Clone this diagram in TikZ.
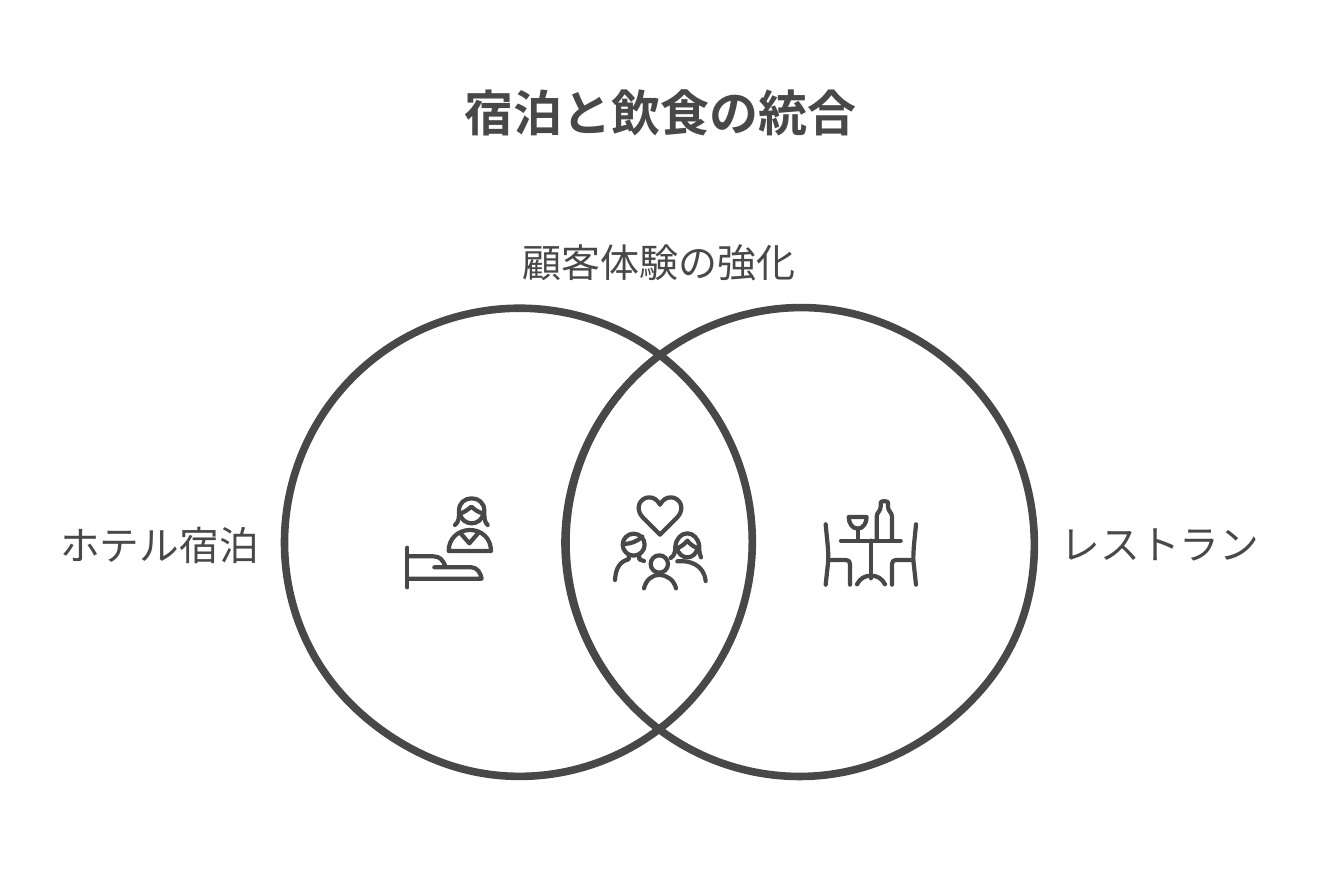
\documentclass[tikz,border=0pt]{standalone}
\usepackage{fontspec}
\newfontfamily\cjkreg{Noto Sans CJK JP}
\newfontfamily\cjkbold{Noto Sans CJK JP Bold}
\definecolor{ink}{HTML}{484848}
\tikzset{
  ring/.style={draw=ink,line width=7.6pt,line join=round},
  toplabel/.style={text=ink,font=\fontsize{39}{42}\selectfont\cjkreg,inner sep=0pt,anchor=center},
  sidelabel/.style={text=ink,font=\fontsize{39.7}{42}\selectfont\cjkreg,inner sep=0pt,anchor=center},
  heading/.style={text=ink,font=\fontsize{49}{52}\selectfont\cjkbold,inner sep=0pt,anchor=center},
  ic/.style={draw=ink,line width=4.2pt,line cap=round,line join=round},
  iconz/.style={x=0.3333pt,y=-0.3333pt}
}
\pgfmathdeclarefunction{bump}{3}{% angle, centre, sharpness
  \pgfmathparse{pow(abs(cos((#1-#2)/2)),#3)}%
}
\begin{document}
\begin{tikzpicture}[x=1pt,y=-1pt]
\useasboundingbox[fill=white] (0,0) rectangle (1320,876);
\node[heading] (title) at (660,113) {宿泊と飲食の統合};
\node[toplabel] (top) at (659,263) {顧客体験の強化};
\node[sidelabel] (left) at (159.5,545) {ホテル宿泊};
\node[sidelabel] (right) at (1160,545) {レストラン};
% left ring, with the small flat of the hand-drawn line at lower left
\draw[ring] plot[smooth cycle,tension=0.6,samples=120,domain=0:357,variable=\t]
  ({518.5+(234-1.8*bump(\t,124,60)+0.8*bump(\t,300,30)-0.6*bump(\t,30,30))*cos(\t)},
   {542.5+(234-1.8*bump(\t,124,60)+0.8*bump(\t,300,30)-0.6*bump(\t,30,30))*sin(\t)});
% right ring
\draw[ring] plot[smooth cycle,tension=0.6,samples=120,domain=0:357,variable=\t]
  ({800+(234+1.5*bump(\t,25,60)-1.8*bump(\t,50,60)+1.0*bump(\t,275,60))*cos(\t)},
   {542.5+(234+1.5*bump(\t,25,60)-1.8*bump(\t,50,60)+1.0*bump(\t,275,60))*sin(\t)});
% the same line runs heavier on the inner arc
\draw[ring] plot[smooth,tension=0.6,samples=40,domain=140:220,variable=\t]
  ({800+(234+1.0*pow(cos((\t-180)*2.25),2))*cos(\t)},
   {542.5+(234+1.0*pow(cos((\t-180)*2.25),2))*sin(\t)});
% bed + receptionist
\begin{scope}[shift={(390,480)},iconz,every path/.style={ic}]
 \draw (52,203) -- (52,322);
 \draw (52,229) -- (130,229) .. controls (150,229) and (158,240) .. (166,258);
 \draw (133,262) -- (245,262) .. controls (262,262) and (272,280) .. (275,296) -- (52,296);
 \draw (195,135) .. controls (208,125) and (207,110) .. (207,92) .. controls (207,68) and (225,55) .. (245,55) .. controls (265,55) and (283,68) .. (283,92) .. controls (283,110) and (282,125) .. (293,135);
 \draw (210,100) .. controls (222,98) and (232,90) .. (244,80) .. controls (256,90) and (266,98) .. (280,100);
 \draw (210,100) .. controls (212,118) and (228,130) .. (245,130) .. controls (262,130) and (278,118) .. (280,100);
 \draw (176,213) .. controls (176,175) and (205,150) .. (240,150) .. controls (275,150) and (303,175) .. (303,213) -- cycle;
 \draw (212,160) -- (238,190) -- (264,160);
\end{scope}
% family + heart
\begin{scope}[shift={(600,480)},iconz,every path/.style={ic}]
 \draw (180,164) -- (128,112) .. controls (103,85) and (120,52) .. (148,52) .. controls (162,52) and (172,60) .. (180,74) .. controls (188,60) and (198,52) .. (212,52) .. controls (240,52) and (257,85) .. (232,112) -- cycle;
 \draw (101,194) circle (33);
 \draw (70,192) .. controls (92,192) and (112,184) .. (127,170);
 \draw (118,226) -- (118,238) -- (132,243);
 \draw (45,300) .. controls (47,262) and (62,243) .. (86,238) -- (86,226);
 \draw (178,252) circle (26);
 \draw (132,325) .. controls (138,300) and (155,285) .. (178,285) .. controls (201,285) and (222,300) .. (228,325);
 \draw (232,204) .. controls (244,200) and (254,192) .. (262,182) .. controls (270,192) and (280,200) .. (292,204);
 \draw (232,204) .. controls (234,222) and (248,232) .. (262,232) .. controls (276,232) and (290,222) .. (292,204);
 \draw (212,234) .. controls (224,226) and (226,215) .. (226,200) .. controls (228,175) and (245,160) .. (262,160) .. controls (279,160) and (296,175) .. (298,200) .. controls (298,215) and (298,224) .. (303,232);
 \draw (232,244) .. controls (270,240) and (312,255) .. (317,303);
\end{scope}
% table
\begin{scope}[shift={(810,480)},iconz,every path/.style={ic}]
 \draw (93,182) -- (272,182);
 \draw (183,182) -- (183,295);
 \draw (141,313) .. controls (150,295) and (165,287) .. (183,287) .. controls (201,287) and (216,295) .. (225,313);
 \draw (116,111) -- (170,111) .. controls (170,128) and (160,146) .. (143,146) .. controls (126,146) and (116,128) .. (116,111) -- cycle;
 \draw (143,146) -- (143,182);
 \draw (200,178) -- (200,110) .. controls (200,97) and (212,94) .. (212,80) -- (212,68) .. controls (212,62) and (234,62) .. (234,68) -- (234,80) .. controls (234,94) and (246,97) .. (246,110) -- (246,178);
 \draw (47,133) .. controls (50,170) and (55,200) .. (55,240) -- (47,314);
 \draw (55,240) -- (108,240) .. controls (116,240) and (120,244) .. (120,252) -- (120,314);
 \draw (318,133) .. controls (315,170) and (310,200) .. (310,240) -- (318,314);
 \draw (310,240) -- (258,240) .. controls (250,240) and (246,244) .. (246,252) -- (246,314);
\end{scope}
\end{tikzpicture}
\end{document}
